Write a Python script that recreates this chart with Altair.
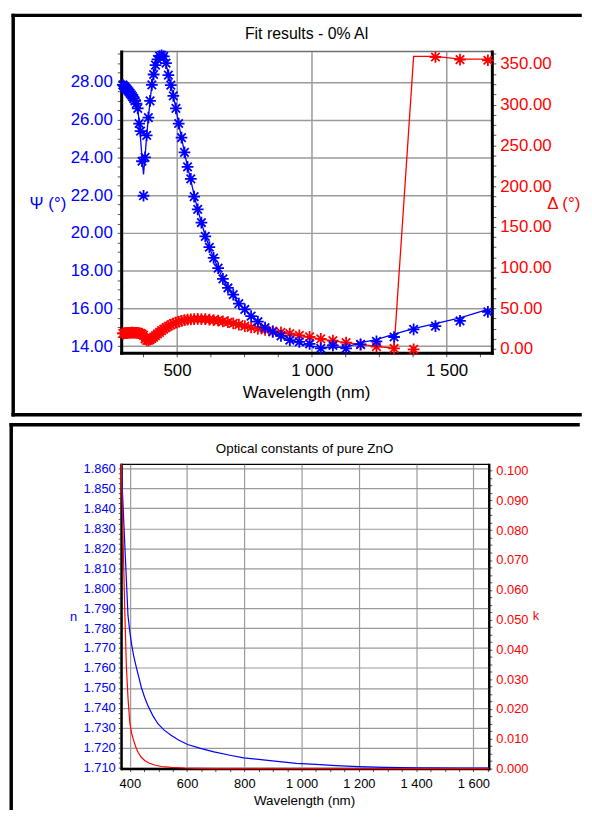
import altair as alt
import pandas as pd

# ---------------- top panel data (ellipsometry fit) ----------------
wavelength = [298.8, 302.4, 306.2, 310.0, 313.9, 317.9, 322.1, 326.3, 330.7, 335.1,
              339.7, 344.4, 349.3, 354.3, 359.4, 364.7, 370.1, 375.8, 381.5, 387.5,
              393.7, 400.0, 406.6, 413.3, 420.3, 427.6, 435.1, 442.9, 450.9, 459.3,
              467.9, 476.9, 486.3, 496.0, 506.1, 516.7, 527.7, 539.1, 551.1, 563.6,
              576.7, 590.5, 604.9, 620.0, 635.9, 652.6, 670.3, 688.9, 708.6, 729.4,
              751.5, 775.0, 800.0, 826.7, 855.2, 885.7, 918.5, 953.8, 992.0, 1033.3,
              1078.3, 1127.3, 1181.0, 1240.0, 1305.3, 1377.8, 1458.8, 1550.0, 1653.3]
psi_exp = [27.85, 27.80, 27.74, 27.68, 27.62, 27.55, 27.48, 27.40, 27.32, 27.23,
           27.12, 27.00, 26.85, 26.60, 25.80, 25.40, 23.80, 21.97, 24.00, 25.17,
           26.11, 27.00, 27.85, 28.40, 28.90, 29.20, 29.38, 29.42, 29.36, 29.00,
           28.37, 27.84, 27.27, 26.60, 25.80, 25.05, 24.27, 23.50, 22.86, 21.92,
           21.25, 20.55, 19.82, 19.24, 18.67, 18.13, 17.56, 17.08, 16.73, 16.25,
           15.94, 15.59, 15.29, 14.98, 14.75, 14.54, 14.31, 14.22, 14.12, 13.88,
           14.03, 13.88, 14.09, 14.25, 14.48, 14.89, 15.06, 15.33, 15.81]
psi_fit = [27.85, 27.80, 27.74, 27.68, 27.62, 27.55, 27.48, 27.40, 27.32, 27.23,
           27.12, 27.00, 26.85, 26.55, 25.95, 25.00, 24.00, 23.10, 24.05, 25.17,
           26.11, 27.00, 27.85, 28.40, 28.90, 29.20, 29.38, 29.42, 29.36, 29.00,
           28.37, 27.84, 27.27, 26.60, 25.80, 25.05, 24.27, 23.50, 22.80, 22.00,
           21.25, 20.55, 19.85, 19.24, 18.67, 18.13, 17.56, 17.10, 16.70, 16.27,
           15.94, 15.59, 15.29, 14.98, 14.75, 14.52, 14.28, 14.13, 14.01, 13.93,
           13.92, 13.95, 14.18, 14.34, 14.63, 14.93, 15.19, 15.50, 15.94]
delta_exp = [19.3, 19.3, 19.4, 19.5, 19.6, 19.8, 20.0, 20.0, 20.1, 20.1,
             20.0, 20.0, 19.9, 19.8, 19.6, 19.2, 18.5, 17.0, 12.5, 10.5,
             10.5, 11.5, 13.0, 14.5, 16.5, 18.5, 20.5, 22.5, 24.5, 26.3,
             28.0, 29.7, 31.2, 32.5, 33.7, 34.7, 35.5, 36.1, 36.5, 36.8,
             36.9, 36.8, 36.6, 36.2, 35.6, 34.9, 34.0, 32.9, 31.5, 29.9,
             28.2, 26.5, 25.0, 23.5, 22.0, 20.5, 19.0, 16.8, 14.9, 12.5,
             10.3, 7.9, 5.4, 3.0, 0.7, -0.3, 358.5, 355.3, 354.5]
delta_fit = [19.3, 19.3, 19.4, 19.5, 19.6, 19.8, 20.0, 20.0, 20.1, 20.1,
             20.0, 20.0, 19.9, 19.8, 19.6, 19.2, 18.5, 17.5, 13.0, 10.6,
             10.5, 11.5, 13.0, 14.5, 16.5, 18.5, 20.5, 22.5, 24.5, 26.3,
             28.0, 29.7, 31.2, 32.5, 33.7, 34.7, 35.5, 36.1, 36.5, 36.8,
             36.9, 36.8, 36.6, 36.2, 35.6, 34.9, 34.0, 32.9, 31.5, 29.9,
             28.2, 26.5, 25.0, 23.5, 22.0, 20.5, 18.8, 16.8, 14.6, 12.3,
             10.0, 7.8, 5.6, 3.3, 0.9, 359.3, 359.3, 356.0, 356.0]

# ---------------- bottom panel data (optical constants) ----------------
n_wl = [370.1, 381.5, 393.7, 400.0, 406.6, 413.3, 423.0, 433.0, 440.0, 452.0,
        463.0, 480.0, 498.0, 520.0, 544.0, 570.0, 602.0, 650.0, 694.0, 750.0,
        798.0, 890.0, 982.0, 1050.0, 1120.0, 1199.0, 1293.0, 1403.0, 1559.0, 1653.3]
n_val = [1.8621, 1.8250, 1.7862, 1.7782, 1.7716, 1.7662, 1.7602, 1.7545, 1.7503, 1.7452,
         1.7412, 1.7362, 1.7320, 1.7288, 1.7262, 1.7238, 1.7216, 1.7195, 1.7179, 1.7162,
         1.7149, 1.7135, 1.7121, 1.7116, 1.7110, 1.7105, 1.7101, 1.7099, 1.7097, 1.7097]
k_wl = [370.1, 377.0, 383.0, 388.0, 394.0, 400.0, 406.0, 412.0, 420.0, 429.0,
        440.0, 452.0, 468.0, 487.0, 510.0, 544.0, 590.0, 636.0, 700.0, 1653.3]
k_val = [0.1023, 0.0747, 0.0509, 0.0343, 0.0232, 0.0154, 0.0120, 0.0099, 0.0075, 0.0054,
         0.0038, 0.0027, 0.0018, 0.0012, 0.0007, 0.0004, 0.0002, 0.0001, 0.0000, 0.0000]

# tick positions
x_top_ticks = [375 + 125 * i for i in range(11)]
psi_ticks = [14 + 0.5 * i for i in range(32)]
delta_ticks = [12.5 * i for i in range(30)]
x_bot_ticks = [400 + 50 * i for i in range(26)]
n_ticks = [round(1.710 + 0.0025 * i, 4) for i in range(61)]
k_ticks = [round(0.0025 * i, 4) for i in range(41)]

top_df = pd.DataFrame({"wl": wavelength, "psi": psi_exp, "psi_fit": psi_fit,
                       "delta": delta_exp, "delta_fit": delta_fit})
n_df = pd.DataFrame({"wl": n_wl, "n": n_val})
k_df = pd.DataFrame({"wl": k_wl, "k": k_val})
one = pd.DataFrame({"a": [0]})

FONT = "Liberation Sans"
BLUE = "#0000ff"
RED = "#ff0000"
GRID = "#9a9a9a"
TICK = "#555555"
ASTERISK = "M-1,0L1,0M0,-1L0,1M-0.72,-0.72L0.72,0.72M-0.72,0.72L0.72,-0.72"
THOUSANDS = "replace(format(datum.value, ','), ',', ' ')"


def text(txt, x, y, size, color="black", align="center"):
    return alt.Chart(one).mark_text(font=FONT, fontSize=size, color=color, align=align,
                                    baseline="middle").encode(
        x=alt.value(x), y=alt.value(y), text=alt.value(txt))


def hline(x1, x2, y, w=3.5):
    return alt.Chart(one).mark_rule(color="black", strokeWidth=w, strokeCap="square").encode(
        x=alt.value(x1), x2=alt.value(x2), y=alt.value(y))


def vline(x, y1, y2, w=3.5):
    return alt.Chart(one).mark_rule(color="black", strokeWidth=w, strokeCap="square").encode(
        x=alt.value(x), y=alt.value(y1), y2=alt.value(y2))


# ================= top panel =================
TW, TH = 374, 304
x_top = alt.X("wl:Q", title=None,
              scale=alt.Scale(domain=[293, 1668], nice=False, zero=False),
              axis=alt.Axis(values=x_top_ticks,
                            labelExpr="datum.value % 500 == 0 ? " + THOUSANDS + " : ''",
                            labelFontSize=17, labelColor="black", labelFont=FONT,
                            labelPadding=6, labelOverlap=False, labelFlush=False,
                            tickSize=4, tickColor=TICK, domainColor="black", domainWidth=3,
                            domainCap="square", grid=True, gridColor=GRID, gridWidth=1.5,
                            gridOpacity={"condition": {"test": "datum.value % 500 == 0", "value": 1}, "value": 0}))

psi_axis = alt.Axis(orient="left", values=psi_ticks, title=None,
                    labelExpr="datum.value % 2 == 0 ? format(datum.value, '.2f') : ''",
                    labelColor=BLUE, labelFontSize=17, labelFont=FONT, labelPadding=5,
                    labelOverlap=False, labelFlush=False, tickSize=4, tickColor=TICK,
                    domainColor="black", domainWidth=3, domainCap="square",
                    grid=True, gridColor=GRID, gridWidth=1.5,
                    gridOpacity={"condition": {"test": "datum.value % 2 == 0", "value": 1}, "value": 0})
delta_axis = alt.Axis(orient="right", values=delta_ticks, title=None,
                      labelExpr="datum.value % 50 == 0 ? format(datum.value, '.2f') : ''",
                      labelColor=RED, labelFontSize=17, labelFont=FONT, labelPadding=4,
                      labelOverlap=False, labelFlush=False, tickSize=4, tickColor=TICK,
                      domainColor="black", domainWidth=3, domainCap="square", grid=False)

psi_scale = alt.Scale(domain=[13.643, 29.617], nice=False, zero=False)
delta_scale = alt.Scale(domain=[-4.6, 365.2], nice=False, zero=False)

base_top = alt.Chart(top_df)
delta_layer = alt.layer(
    base_top.mark_line(color=RED, strokeWidth=1.3).encode(
        x=x_top, y=alt.Y("delta_fit:Q", scale=delta_scale, axis=delta_axis)),
    base_top.mark_point(shape=ASTERISK, filled=False, color=RED, size=140, strokeWidth=1.8, opacity=1).encode(
        x=x_top, y=alt.Y("delta:Q", scale=delta_scale, axis=delta_axis)),
)
psi_layer = alt.layer(
    base_top.mark_line(color=BLUE, strokeWidth=1.3).encode(
        x=x_top, y=alt.Y("psi_fit:Q", scale=psi_scale, axis=psi_axis)),
    base_top.mark_point(shape=ASTERISK, filled=False, color=BLUE, size=140, strokeWidth=1.8, opacity=1).encode(
        x=x_top, y=alt.Y("psi:Q", scale=psi_scale, axis=psi_axis)),
)

top = alt.layer(
    delta_layer, psi_layer,
    hline(-109, 463, -36.5), hline(-109, 463, 366.5), vline(-109, -36.5, 366.5),
    text("Fit results - 0% Al", 187, -17.5, 16),
    text("Ψ (°)", -74, 153.5, 17, BLUE),
    text("Δ (°)", 430, 153.5, 17, RED, align="left"),
    text("Wavelength (nm)", 187, 344.5, 17),
).resolve_scale(y="independent").properties(
    width=TW, height=TH, view=alt.ViewBackground(stroke="#707070", strokeWidth=1.5))

# ================= bottom panel =================
BW, BH = 371, 307
x_bot = alt.X("wl:Q", title=None,
              scale=alt.Scale(domain=[370, 1654], nice=False, zero=False),
              axis=alt.Axis(values=x_bot_ticks,
                            labelExpr="datum.value % 200 == 0 ? " + THOUSANDS + " : ''",
                            labelFontSize=13, labelColor="black", labelFont=FONT,
                            labelPadding=6, labelOverlap=False, labelFlush=False,
                            tickSize=3, tickColor=TICK, domainColor="black", domainWidth=2.2,
                            domainCap="square", grid=True, gridColor=GRID, gridWidth=1.2,
                            gridOpacity={"condition": {"test": "datum.value % 200 == 0", "value": 1}, "value": 0}))
MAJOR01 = "abs(datum.value * 100 - round(datum.value * 100)) < 0.001"
n_axis = alt.Axis(orient="left", values=n_ticks, title=None,
                  labelExpr=MAJOR01 + " ? format(datum.value, '.3f') : ''",
                  labelColor=BLUE, labelFontSize=13, labelFont=FONT, labelPadding=3,
                  labelOverlap=False, labelFlush=False, tickSize=3, tickColor=TICK,
                  domainColor="black", domainWidth=2.2, domainCap="square",
                  grid=True, gridColor=GRID, gridWidth=1.2,
                  gridOpacity={"condition": {"test": MAJOR01, "value": 1}, "value": 0})
k_axis = alt.Axis(orient="right", values=k_ticks, title=None,
                  labelExpr=MAJOR01 + " ? format(datum.value, '.3f') : ''",
                  labelColor=RED, labelFontSize=13, labelFont=FONT, labelPadding=4,
                  labelOverlap=False, labelFlush=False, tickSize=3, tickColor=TICK,
                  domainColor="black", domainWidth=2.2, domainCap="square", grid=False)

n_line = alt.Chart(n_df).mark_line(color=BLUE, strokeWidth=1.2).encode(
    x=x_bot, y=alt.Y("n:Q", scale=alt.Scale(domain=[1.7095, 1.8621], nice=False, zero=False), axis=n_axis))
k_line = alt.Chart(k_df).mark_line(color=RED, strokeWidth=1.2).encode(
    x=x_bot, y=alt.Y("k:Q", scale=alt.Scale(domain=[0, 0.1021], nice=False, zero=False), axis=k_axis))

bottom = alt.layer(
    n_line, k_line,
    hline(-111, 461, -40), vline(-111, -40, 347),
    text("Optical constants of pure ZnO", 185, -15, 13.5),
    text("n", -48, 154, 13, BLUE),
    text("k", 418.5, 153, 13, RED),
    text("Wavelength (nm)", 185, 339.5, 13.5),
).resolve_scale(y="independent").properties(
    width=BW, height=BH, view=alt.ViewBackground(stroke="black", strokeWidth=1.5))

chart = alt.concat(top, bottom, columns=1, spacing=2.6, align="none").properties(
    padding={"left": -0.75, "top": 0.25, "right": 0, "bottom": 0}
).configure(font=FONT)

chart.save("out.html", embed_options={"renderer": "svg", "actions": False})
